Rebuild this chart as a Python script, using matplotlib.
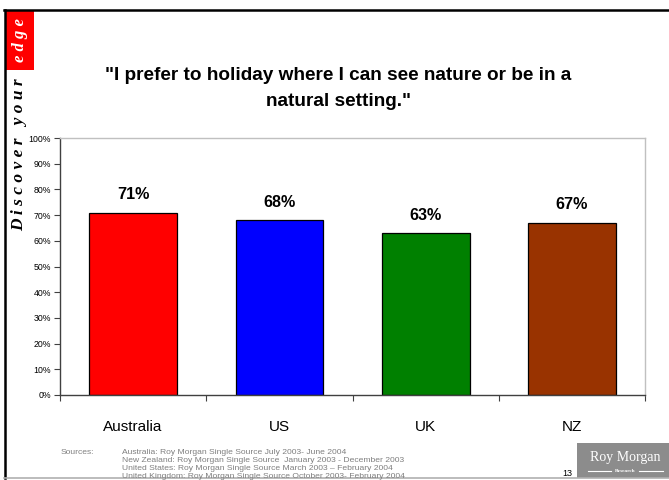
import matplotlib.pyplot as plt
from matplotlib.lines import Line2D
from matplotlib.patches import Rectangle
from matplotlib.ticker import FixedLocator, PercentFormatter

plt.rcParams['font.family'] = ['Liberation Sans', 'DejaVu Sans']

# Survey results by country
countries = ['Australia', 'US', 'UK', 'NZ']
shares = [71, 68, 63, 67]
bar_colors = ['#ff0000', '#0000ff', '#008000', '#993300']

title_lines = ['"I prefer to holiday where I can see nature or be in a',
               'natural setting."']
sources = ['Australia: Roy Morgan Single Source July 2003- June 2004',
           'New Zealand: Roy Morgan Single Source  January 2003 - December 2003',
           'United States: Roy Morgan Single Source March 2003 \u2013 February 2004',
           'United Kingdom: Roy Morgan Single Source October 2003- February 2004']
page_number = '13'

W, H = 669, 480


def fx(px):
    return px / W


def fy(py):
    return 1 - py / H


fig = plt.figure(figsize=(6.69, 4.80), dpi=100)

# slide frame
fig.add_artist(Line2D([fx(4.5), fx(4.5)], [fy(10), fy(478)], color='black', lw=1.8))
fig.add_artist(Line2D([fx(4), fx(669)], [fy(10), fy(10)], color='black', lw=1.8))
fig.add_artist(Line2D([fx(4), fx(669)], [fy(478), fy(478)], color='#b0b0b0', lw=1.2))

# side banner
fig.add_artist(Rectangle((fx(5), fy(70)), fx(29), 60 / H, color='#ff0000', lw=0))
fig.text(fx(20), fy(40), 'e d g e', rotation=90, ha='center', va='center',
         color='white', family='Liberation Serif', style='italic',
         fontweight='bold', fontsize=12)
fig.text(fx(19), fy(155), 'D i s c o v e r   y o u r', rotation=90, ha='center',
         va='center', color='black', family='Liberation Serif', style='italic',
         fontweight='bold', fontsize=12.5)

# title
fig.text(fx(338), fy(76), title_lines[0], ha='center', va='center',
         fontsize=13.7, fontweight='bold')
fig.text(fx(338), fy(102), title_lines[1], ha='center', va='center',
         fontsize=13.7, fontweight='bold')

ax = fig.add_axes([fx(60), fy(395), fx(585), 257 / H])
x = range(len(countries))
bars = ax.bar(x, shares, width=0.6, color=bar_colors, edgecolor='black', linewidth=0.9)
for rect, v in zip(bars, shares):
    ax.annotate(f'{v}%', (rect.get_x() + rect.get_width() / 2, v),
                xytext=(0, 7.5), textcoords='offset points', ha='center',
                va='bottom', fontsize=11.6, fontweight='bold')

ax.set_xlim(-0.5, len(countries) - 0.5)
ax.set_ylim(0, 100)
ax.set_yticks(range(0, 101, 10))
ax.yaxis.set_major_formatter(PercentFormatter(decimals=0))
ax.tick_params(axis='y', direction='out', length=4, width=0.8, labelsize=6.3,
               color='#404040', pad=2.5)

# category separators on the x axis, names centred between them
ax.xaxis.set_major_locator(FixedLocator([i - 0.5 for i in range(len(countries) + 1)]))
ax.xaxis.set_minor_locator(FixedLocator(list(x)))
ax.set_xticklabels([], minor=False)
ax.set_xticklabels(countries, minor=True, fontsize=11)
ax.tick_params(axis='x', which='major', direction='out', length=4, width=0.8, color='#404040')
ax.tick_params(axis='x', which='minor', length=0, pad=18)

for side in ('top', 'right'):
    ax.spines[side].set_color('#c0c0c0')
    ax.spines[side].set_linewidth(1)
for side in ('left', 'bottom'):
    ax.spines[side].set_color('#404040')
    ax.spines[side].set_linewidth(1)

# sources footnote
fig.text(fx(61), fy(453), 'Sources:', fontsize=6.1, color='#7f7f7f', va='center')
for i, line in enumerate(sources):
    fig.text(fx(122), fy(453 + 8 * i), line, fontsize=6.1, color='#7f7f7f', va='center')

fig.text(fx(567), fy(473), page_number, fontsize=6.5, ha='center', va='center')

# logo block
fig.add_artist(Rectangle((fx(577), fy(478)), fx(92), 35 / H, color='#8c8c8c', lw=0))
fig.text(fx(625), fy(457), 'Roy Morgan', fontsize=10, color='white', ha='center',
         va='center', family='Liberation Serif')
fig.text(fx(625), fy(471), 'Research', fontsize=3.8, color='white', ha='center',
         va='center', family='Liberation Serif', fontweight='bold')
fig.add_artist(Line2D([fx(588), fx(611)], [fy(471), fy(471)], color='white', lw=0.8))
fig.add_artist(Line2D([fx(639), fx(663)], [fy(471), fy(471)], color='white', lw=0.8))

fig.savefig('out.png', dpi=100)
